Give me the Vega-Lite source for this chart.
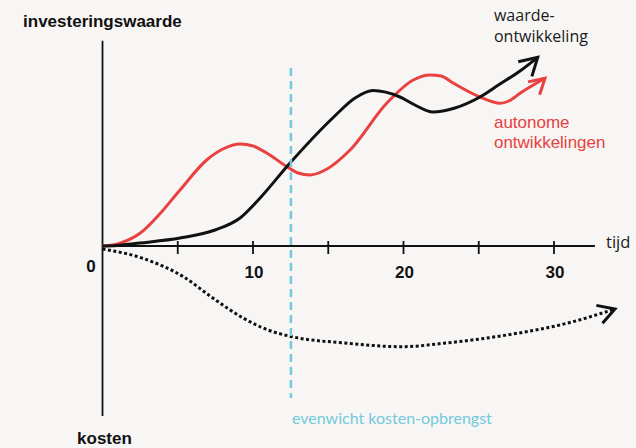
{
  "$schema": "https://vega.github.io/schema/vega-lite/v6.json",
  "width": 636,
  "height": 448,
  "padding": 0,
  "autosize": {"type": "none"},
  "background": "#f7f6f4",
  "config": {"view": {"stroke": null}},
  "data": {"values": [{"one": 1}]},
  "datasets": {
    "curves": [
      {"s": "autonoom", "x": 0, "y": 0},
      {"s": "autonoom", "x": 0.7, "y": 0.1},
      {"s": "autonoom", "x": 1.3, "y": 0.35},
      {"s": "autonoom", "x": 2.49, "y": 1.27},
      {"s": "autonoom", "x": 3.8, "y": 3.2},
      {"s": "autonoom", "x": 5.15, "y": 5.6},
      {"s": "autonoom", "x": 6.92, "y": 8.6},
      {"s": "autonoom", "x": 8.0, "y": 9.7},
      {"s": "autonoom", "x": 9.14, "y": 10.2},
      {"s": "autonoom", "x": 10.0, "y": 10.0},
      {"s": "autonoom", "x": 10.91, "y": 9.3},
      {"s": "autonoom", "x": 12.24, "y": 7.95},
      {"s": "autonoom", "x": 13.0, "y": 7.3},
      {"s": "autonoom", "x": 13.79, "y": 7.1},
      {"s": "autonoom", "x": 14.8, "y": 7.6},
      {"s": "autonoom", "x": 16.45, "y": 9.6},
      {"s": "autonoom", "x": 18.88, "y": 14.27},
      {"s": "autonoom", "x": 20.65, "y": 16.6},
      {"s": "autonoom", "x": 21.76, "y": 17.1},
      {"s": "autonoom", "x": 22.5, "y": 17.0},
      {"s": "autonoom", "x": 23.3, "y": 16.3},
      {"s": "autonoom", "x": 25.08, "y": 14.9},
      {"s": "autonoom", "x": 26.41, "y": 14.27},
      {"s": "autonoom", "x": 27.0, "y": 14.5},
      {"s": "autonoom", "x": 27.74, "y": 15.27},
      {"s": "autonoom", "x": 29.4, "y": 16.77},
      {"s": "waarde", "x": 0, "y": 0},
      {"s": "waarde", "x": 0.96, "y": 0.05},
      {"s": "waarde", "x": 2.49, "y": 0.3},
      {"s": "waarde", "x": 5.15, "y": 0.8},
      {"s": "waarde", "x": 7.48, "y": 1.6},
      {"s": "waarde", "x": 9.14, "y": 2.8},
      {"s": "waarde", "x": 10.35, "y": 4.6},
      {"s": "waarde", "x": 12.46, "y": 8.3},
      {"s": "waarde", "x": 15.33, "y": 12.85},
      {"s": "waarde", "x": 16.78, "y": 14.8},
      {"s": "waarde", "x": 17.97, "y": 15.55},
      {"s": "waarde", "x": 19.77, "y": 14.9},
      {"s": "waarde", "x": 20.76, "y": 14.1},
      {"s": "waarde", "x": 21.96, "y": 13.4},
      {"s": "waarde", "x": 23.42, "y": 13.8},
      {"s": "waarde", "x": 25.08, "y": 14.9},
      {"s": "waarde", "x": 26.41, "y": 16.2},
      {"s": "waarde", "x": 27.74, "y": 17.5},
      {"s": "waarde", "x": 28.92, "y": 18.87},
      {"s": "kosten", "x": 0, "y": -0.3},
      {"s": "kosten", "x": 2.71, "y": -1.25},
      {"s": "kosten", "x": 5.4, "y": -3.1},
      {"s": "kosten", "x": 7.21, "y": -5.07},
      {"s": "kosten", "x": 9.34, "y": -7.2},
      {"s": "kosten", "x": 11.0, "y": -8.4},
      {"s": "kosten", "x": 12.59, "y": -9.07},
      {"s": "kosten", "x": 16.11, "y": -9.7},
      {"s": "kosten", "x": 19.87, "y": -10.07},
      {"s": "kosten", "x": 22.82, "y": -9.7},
      {"s": "kosten", "x": 26.87, "y": -8.9},
      {"s": "kosten", "x": 30.93, "y": -7.7},
      {"s": "kosten", "x": 34.05, "y": -6.3}
    ],
    "ticks": [{"t": 5}, {"t": 10}, {"t": 15}, {"t": 20}, {"t": 25}, {"t": 30}],
    "ticklabels": [{"t": 10, "label": "10"}, {"t": 20, "label": "20"}, {"t": 30, "label": "30"}]
  },
  "layer": [
    {
      "mark": {"type": "rule", "color": "#111111", "strokeWidth": 1.8},
      "encoding": {
        "x": {"datum": 0, "type": "quantitative", "scale": {"domain": [-6.811, 35.449], "nice": false, "zero": false}, "axis": null},
        "y": {"datum": 20.53, "type": "quantitative", "scale": {"domain": [-20.2, 24.6], "nice": false, "zero": false}, "axis": null},
        "y2": {"datum": -17.0}
      }
    },
    {
      "mark": {"type": "rule", "color": "#111111", "strokeWidth": 1.8},
      "encoding": {
        "x": {"datum": 0, "type": "quantitative", "scale": {"domain": [-6.811, 35.449], "nice": false, "zero": false}, "axis": null},
        "x2": {"datum": 32.72},
        "y": {"datum": 0, "type": "quantitative", "scale": {"domain": [-20.2, 24.6], "nice": false, "zero": false}, "axis": null}
      }
    },
    {
      "data": {"name": "ticks"},
      "mark": {"type": "rule", "color": "#111111", "strokeWidth": 1.8},
      "encoding": {
        "x": {"field": "t", "type": "quantitative", "scale": {"domain": [-6.811, 35.449], "nice": false, "zero": false}, "axis": null},
        "y": {"datum": 0.5, "type": "quantitative", "scale": {"domain": [-20.2, 24.6], "nice": false, "zero": false}, "axis": null},
        "y2": {"datum": -0.8}
      }
    },
    {
      "data": {"name": "curves"},
      "transform": [{"filter": "datum.s == 'autonoom'"}],
      "mark": {"type": "line", "color": "#e8413f", "strokeWidth": 3, "interpolate": "monotone"},
      "encoding": {
        "x": {"field": "x", "type": "quantitative", "scale": {"domain": [-6.811, 35.449], "nice": false, "zero": false}, "axis": null},
        "y": {"field": "y", "type": "quantitative", "scale": {"domain": [-20.2, 24.6], "nice": false, "zero": false}, "axis": null}
      }
    },
    {
      "data": {"name": "curves"},
      "transform": [{"filter": "datum.s == 'waarde'"}],
      "mark": {"type": "line", "color": "#111111", "strokeWidth": 3, "interpolate": "monotone"},
      "encoding": {
        "x": {"field": "x", "type": "quantitative", "scale": {"domain": [-6.811, 35.449], "nice": false, "zero": false}, "axis": null},
        "y": {"field": "y", "type": "quantitative", "scale": {"domain": [-20.2, 24.6], "nice": false, "zero": false}, "axis": null}
      }
    },
    {
      "data": {"name": "curves"},
      "transform": [{"filter": "datum.s == 'kosten'"}],
      "mark": {"type": "line", "color": "#111111", "strokeWidth": 3, "strokeDash": [3, 2.5], "strokeCap": "butt", "interpolate": "monotone"},
      "encoding": {
        "x": {"field": "x", "type": "quantitative", "scale": {"domain": [-6.811, 35.449], "nice": false, "zero": false}, "axis": null},
        "y": {"field": "y", "type": "quantitative", "scale": {"domain": [-20.2, 24.6], "nice": false, "zero": false}, "axis": null}
      }
    },
    {
      "data": {"name": "curves"},
      "transform": [
        {"filter": "datum.s == 'waarde'"},
        {"joinaggregate": [{"op": "max", "field": "x", "as": "mx"}]},
        {"filter": "datum.x == datum.mx"}
      ],
      "mark": {"type": "point", "shape": "M -1 -0.577 L 0 0 L -1 0.577", "filled": false, "stroke": "#111111", "strokeWidth": 3, "size": 1200, "angle": 317, "opacity": 1},
      "encoding": {
        "x": {"field": "x", "type": "quantitative", "scale": {"domain": [-6.811, 35.449], "nice": false, "zero": false}, "axis": null},
        "y": {"field": "y", "type": "quantitative", "scale": {"domain": [-20.2, 24.6], "nice": false, "zero": false}, "axis": null}
      }
    },
    {
      "data": {"name": "curves"},
      "transform": [
        {"filter": "datum.s == 'autonoom'"},
        {"joinaggregate": [{"op": "max", "field": "x", "as": "mx"}]},
        {"filter": "datum.x == datum.mx"}
      ],
      "mark": {"type": "point", "shape": "M -1 -0.577 L 0 0 L -1 0.577", "filled": false, "stroke": "#e8413f", "strokeWidth": 3, "size": 900, "angle": 318, "opacity": 1},
      "encoding": {
        "x": {"field": "x", "type": "quantitative", "scale": {"domain": [-6.811, 35.449], "nice": false, "zero": false}, "axis": null},
        "y": {"field": "y", "type": "quantitative", "scale": {"domain": [-20.2, 24.6], "nice": false, "zero": false}, "axis": null}
      }
    },
    {
      "data": {"name": "curves"},
      "transform": [
        {"filter": "datum.s == 'kosten'"},
        {"joinaggregate": [{"op": "max", "field": "x", "as": "mx"}]},
        {"filter": "datum.x == datum.mx"}
      ],
      "mark": {"type": "point", "shape": "M -1 -0.577 L 0 0 L -1 0.577", "filled": false, "stroke": "#111111", "strokeWidth": 3, "size": 1080, "angle": 341, "opacity": 1},
      "encoding": {
        "x": {"field": "x", "type": "quantitative", "scale": {"domain": [-6.811, 35.449], "nice": false, "zero": false}, "axis": null},
        "y": {"field": "y", "type": "quantitative", "scale": {"domain": [-20.2, 24.6], "nice": false, "zero": false}, "axis": null}
      }
    },
    {
      "mark": {"type": "rule", "color": "#74c9dc", "strokeWidth": 2.5, "strokeDash": [8, 5]},
      "encoding": {
        "x": {"datum": 12.52, "type": "quantitative", "scale": {"domain": [-6.811, 35.449], "nice": false, "zero": false}, "axis": null},
        "y": {"datum": 17.8, "type": "quantitative", "scale": {"domain": [-20.2, 24.6], "nice": false, "zero": false}, "axis": null},
        "y2": {"datum": -15.2}
      }
    },
    {
      "data": {"name": "ticklabels"},
      "mark": {"type": "text", "font": "Liberation Sans", "fontWeight": "bold", "fontSize": 17, "color": "#111111", "align": "center", "baseline": "alphabetic", "dx": 1},
      "encoding": {
        "x": {"field": "t", "type": "quantitative", "scale": {"domain": [-6.811, 35.449], "nice": false, "zero": false}, "axis": null},
        "y": {"datum": -3.2, "type": "quantitative", "scale": {"domain": [-20.2, 24.6], "nice": false, "zero": false}, "axis": null},
        "text": {"field": "label"}
      }
    },
    {
      "mark": {"type": "text", "font": "Liberation Sans", "fontWeight": "bold", "fontSize": 17, "color": "#111111", "align": "center", "baseline": "alphabetic"},
      "encoding": {
        "x": {"datum": -0.76, "type": "quantitative", "scale": {"domain": [-6.811, 35.449], "nice": false, "zero": false}, "axis": null},
        "y": {"datum": -2.6, "type": "quantitative", "scale": {"domain": [-20.2, 24.6], "nice": false, "zero": false}, "axis": null},
        "text": {"value": "0"}
      }
    },
    {
      "mark": {"type": "text", "font": "Liberation Sans", "fontWeight": "bold", "fontSize": 17, "color": "#111111", "align": "left", "baseline": "alphabetic"},
      "encoding": {
        "x": {"datum": -5.28, "type": "quantitative", "scale": {"domain": [-6.811, 35.449], "nice": false, "zero": false}, "axis": null},
        "y": {"datum": 21.9, "type": "quantitative", "scale": {"domain": [-20.2, 24.6], "nice": false, "zero": false}, "axis": null},
        "text": {"value": "investeringswaarde"}
      }
    },
    {
      "mark": {"type": "text", "font": "Liberation Sans", "fontWeight": "bold", "fontSize": 17, "color": "#111111", "align": "left", "baseline": "alphabetic"},
      "encoding": {
        "x": {"datum": -1.69, "type": "quantitative", "scale": {"domain": [-6.811, 35.449], "nice": false, "zero": false}, "axis": null},
        "y": {"datum": -19.8, "type": "quantitative", "scale": {"domain": [-20.2, 24.6], "nice": false, "zero": false}, "axis": null},
        "text": {"value": "kosten"}
      }
    },
    {
      "mark": {"type": "text", "font": "Open Sans", "fontSize": 16.5, "color": "#1a1a1a", "align": "left", "baseline": "alphabetic"},
      "encoding": {
        "x": {"datum": 33.46, "type": "quantitative", "scale": {"domain": [-6.811, 35.449], "nice": false, "zero": false}, "axis": null},
        "y": {"datum": -0.2, "type": "quantitative", "scale": {"domain": [-20.2, 24.6], "nice": false, "zero": false}, "axis": null},
        "text": {"value": "tijd"}
      }
    },
    {
      "mark": {"type": "text", "font": "Open Sans", "fontSize": 16, "color": "#1a1a1a", "align": "left", "baseline": "alphabetic", "lineHeight": 21},
      "encoding": {
        "x": {"datum": 26.01, "type": "quantitative", "scale": {"domain": [-6.811, 35.449], "nice": false, "zero": false}, "axis": null},
        "y": {"datum": 22.48, "type": "quantitative", "scale": {"domain": [-20.2, 24.6], "nice": false, "zero": false}, "axis": null},
        "text": {"value": ["waarde-", "ontwikkeling"]}
      }
    },
    {
      "mark": {"type": "text", "font": "Liberation Sans", "fontSize": 17, "color": "#e8413f", "align": "left", "baseline": "alphabetic", "lineHeight": 20},
      "encoding": {
        "x": {"datum": 26.01, "type": "quantitative", "scale": {"domain": [-6.811, 35.449], "nice": false, "zero": false}, "axis": null},
        "y": {"datum": 11.85, "type": "quantitative", "scale": {"domain": [-20.2, 24.6], "nice": false, "zero": false}, "axis": null},
        "text": {"value": ["autonome", "ontwikkelingen"]}
      }
    },
    {
      "mark": {"type": "text", "font": "Lato", "fontSize": 16, "color": "#74c9dc", "align": "left", "baseline": "alphabetic"},
      "encoding": {
        "x": {"datum": 12.59, "type": "quantitative", "scale": {"domain": [-6.811, 35.449], "nice": false, "zero": false}, "axis": null},
        "y": {"datum": -17.75, "type": "quantitative", "scale": {"domain": [-20.2, 24.6], "nice": false, "zero": false}, "axis": null},
        "text": {"value": "evenwicht kosten-opbrengst"}
      }
    }
  ]
}
